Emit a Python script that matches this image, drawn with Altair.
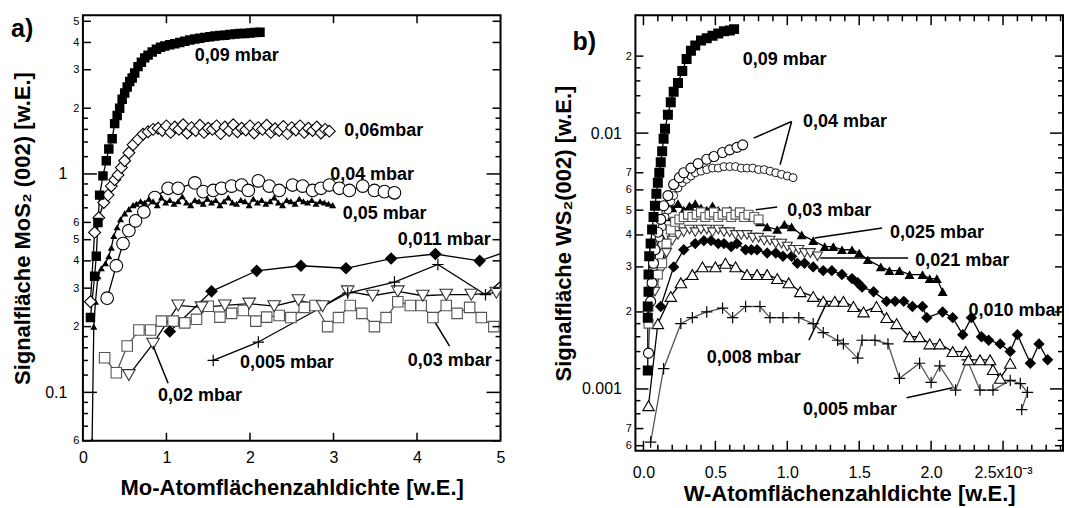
import math
import altair as alt
import pandas as pd

FONT = "Liberation Sans"

# ======================= panel a) : MoS2 =======================
A09_X = [0.09, 0.14, 0.16, 0.18, 0.20, 0.24, 0.28, 0.31, 0.35, 0.38, 0.41, 0.44, 0.47, 0.50, 0.53,
         0.56, 0.59, 0.62, 0.66, 0.70, 0.74, 0.78, 0.83, 0.88, 0.93, 0.98, 1.04, 1.10, 1.16, 1.22,
         1.28, 1.34, 1.40, 1.46, 1.52, 1.58, 1.64, 1.70, 1.76, 1.82, 1.88, 1.94, 2.00, 2.06, 2.12]
A09_Y = [0.22, 0.34, 0.42, 0.60, 0.80, 0.98, 1.15, 1.30, 1.45, 1.70, 1.85, 2.00, 2.20, 2.35, 2.50,
         2.65, 2.75, 2.90, 3.10, 3.25, 3.40, 3.50, 3.62, 3.72, 3.80, 3.85, 3.90, 3.95, 4.00, 4.05,
         4.10, 4.15, 4.18, 4.22, 4.25, 4.28, 4.30, 4.32, 4.35, 4.37, 4.40, 4.40, 4.42, 4.44, 4.45]

A06_X = [0.09, 0.14, 0.19, 0.25, 0.30, 0.34, 0.38, 0.42, 0.46, 0.50, 0.55, 0.60, 0.66, 0.72, 0.78, 0.84,
         0.90, 0.95, 1.00, 1.05, 1.10, 1.15, 1.20, 1.25, 1.30, 1.35, 1.40, 1.45, 1.50, 1.55, 1.60,
         1.65, 1.70, 1.75, 1.80, 1.85, 1.90, 1.95, 2.00, 2.05, 2.10, 2.15, 2.20, 2.25, 2.30, 2.35,
         2.40, 2.45, 2.50, 2.55, 2.60, 2.65, 2.70, 2.75, 2.80, 2.85, 2.90, 2.95]
A06_Y = [0.26, 0.54, 0.63, 0.74, 0.80, 0.88, 0.94, 0.99, 1.07, 1.15, 1.25, 1.36, 1.44, 1.52, 1.56, 1.60,
         1.62, 1.58, 1.66, 1.55, 1.64, 1.60, 1.68, 1.54, 1.63, 1.58,
         1.67, 1.55, 1.62, 1.60, 1.66, 1.53, 1.64, 1.58, 1.68, 1.56,
         1.62, 1.59, 1.66, 1.54, 1.63, 1.60, 1.67, 1.55, 1.61, 1.58,
         1.65, 1.53, 1.63, 1.59, 1.66, 1.55, 1.62, 1.58, 1.64, 1.54,
         1.60, 1.57]

A04_X = [0.29, 0.40, 0.48, 0.55, 0.63, 0.73, 0.86, 1.02, 1.14, 1.34, 1.44, 1.56, 1.66, 1.78, 1.90,
         1.98, 2.10, 2.23, 2.35, 2.51, 2.63, 2.75, 2.85, 2.95, 3.07, 3.19, 3.35, 3.49, 3.61, 3.73]
A04_Y = [0.27, 0.38, 0.48, 0.55, 0.61, 0.67, 0.78, 0.86, 0.86, 0.91, 0.83, 0.84, 0.86, 0.88, 0.89,
         0.84, 0.93, 0.88, 0.84, 0.89, 0.88, 0.84, 0.86, 0.89, 0.86, 0.84, 0.88, 0.84, 0.83, 0.82]

A05_X = [0.11, 0.13, 0.15, 0.18, 0.22, 0.27, 0.31, 0.34, 0.37, 0.41, 0.45, 0.50, 0.55, 0.60,
         0.64, 0.69, 0.74, 0.79, 0.84, 0.89, 0.94, 0.99, 1.04, 1.09,
         1.14, 1.19, 1.24, 1.29, 1.34, 1.39, 1.44, 1.49, 1.54, 1.59,
         1.64, 1.69, 1.74, 1.79, 1.84, 1.89, 1.94, 1.99, 2.04, 2.09,
         2.14, 2.19, 2.24, 2.29, 2.34, 2.39, 2.44, 2.49, 2.54, 2.59,
         2.64, 2.69, 2.74, 2.79, 2.84, 2.89, 2.94, 2.99]
A05_Y = [0.06, 0.20, 0.26, 0.34, 0.37, 0.39, 0.42, 0.46, 0.52, 0.57, 0.62, 0.66, 0.69, 0.72,
         0.73, 0.75, 0.74, 0.77, 0.75, 0.72, 0.78, 0.74, 0.76, 0.73,
         0.75, 0.79, 0.74, 0.72, 0.76, 0.75, 0.73, 0.77, 0.74, 0.76,
         0.72, 0.75, 0.78, 0.74, 0.73, 0.76, 0.75, 0.72, 0.77, 0.74,
         0.76, 0.73, 0.75, 0.78, 0.74, 0.72, 0.76, 0.75, 0.73, 0.77,
         0.75, 0.74, 0.76, 0.73, 0.75, 0.74, 0.73, 0.72]

A011_X = [1.04, 1.54, 2.08, 2.61, 3.15, 3.69, 4.22, 4.75, 5.28]
A011_Y = [0.19, 0.29, 0.36, 0.38, 0.37, 0.41, 0.43, 0.40, 0.47]

A005_X = [1.56, 2.10, 3.17, 3.73, 4.25, 4.82, 5.35]
A005_Y = [0.14, 0.17, 0.285, 0.32, 0.385, 0.28, 0.42]

A02_X = [0.55, 0.84, 1.14, 1.42, 1.70, 1.99, 2.29, 2.58, 2.87, 3.17, 3.47, 3.77, 4.07, 4.35, 4.65, 4.95]
A02_Y = [0.12, 0.167, 0.25, 0.245, 0.25, 0.255, 0.248, 0.264, 0.248, 0.29, 0.277, 0.29, 0.277, 0.28, 0.28, 0.286]

A03_X = [0.26, 0.40, 0.53, 0.67, 0.81, 0.94, 1.08, 1.22, 1.36, 1.50, 1.64, 1.78, 1.92, 2.07, 2.20, 2.35,
         2.49, 2.65, 2.78, 2.93, 3.06, 3.20, 3.34, 3.49, 3.63, 3.77, 3.92, 4.05, 4.19, 4.35, 4.48,
         4.63, 4.77, 4.92]
A03_Y = [0.144, 0.123, 0.163, 0.193, 0.193, 0.212, 0.212, 0.208, 0.216, 0.248, 0.221, 0.23, 0.237,
         0.212, 0.221, 0.225, 0.22, 0.245, 0.25, 0.2, 0.22, 0.25, 0.23, 0.2, 0.22, 0.26, 0.25, 0.25,
         0.22, 0.25, 0.23, 0.245, 0.22, 0.2]

A_TEXT = ["0,09 mbar", "0,06mbar", "0,04 mbar", "0,05 mbar", "0,011 mbar", "0,005 mbar", "0,02 mbar", "0,03 mbar"]
A_TEXT_X = [1.34, 3.13, 2.96, 3.11, 3.77, 1.88, 0.90, 3.89]
A_TEXT_Y = [3.46, 1.57, 0.99, 0.655, 0.50, 0.136, 0.096, 0.139]
A_PTR_ID = ["p02", "p02", "p03", "p03"]
A_PTR_X = [0.84, 1.02, 4.22, 4.39]
A_PTR_Y = [0.163, 0.110, 0.208, 0.163]

A_XLAB_V = [0, 1, 2, 3, 4, 5]
A_XLAB_T = ["0", "1", "2", "3", "4", "5"]
A_XTICK = [1, 2, 3, 4]
A_YLAB_V = [0.06, 0.1, 0.2, 0.3, 0.4, 0.5, 0.6, 1, 2, 3, 4, 5]
A_YLAB_T = ["6", "0.1", "2", "3", "4", "5", "6", "1", "2", "3", "4", "5"]
A_YMINOR = [0.07, 0.08, 0.09, 0.12, 0.14, 0.16, 0.18, 0.7, 0.8, 0.9, 1.2, 1.4, 1.6, 1.8]
A_DECADES = [0.1, 1]

# ======================= panel b) : WS2 =======================
B09_X = [0.03, 0.03, 0.03, 0.035, 0.035, 0.04, 0.05, 0.06, 0.07, 0.08, 0.09, 0.10, 0.11, 0.12, 0.13,
         0.14, 0.15, 0.17, 0.19, 0.21, 0.24, 0.27, 0.30, 0.33, 0.36, 0.40, 0.44, 0.48, 0.52, 0.56,
         0.60, 0.63]
B09_Y = [0.00118, 0.0019, 0.0021, 0.0024, 0.0028, 0.0033, 0.0037, 0.0042, 0.0047, 0.0052, 0.0058,
         0.0064, 0.0070, 0.0077, 0.0085, 0.0095, 0.0104, 0.0118, 0.0132, 0.0145, 0.0157, 0.0175,
         0.0195, 0.0210, 0.0220, 0.0230, 0.0235, 0.0240, 0.0245, 0.0250, 0.0252, 0.0255]

B04A_X = [0.035, 0.05, 0.06, 0.07, 0.08, 0.10, 0.12, 0.14, 0.17, 0.21, 0.25, 0.28, 0.33, 0.38, 0.44,
          0.49, 0.55, 0.60, 0.65, 0.69]
B04A_Y = [0.00138, 0.0022, 0.0026, 0.0031, 0.0035, 0.0041, 0.0046, 0.0052, 0.0057, 0.0063, 0.0067,
          0.0070, 0.0073, 0.0076, 0.0079, 0.0081, 0.0084, 0.0086, 0.0088, 0.0090]

B04B_X = [0.05, 0.07, 0.09, 0.11, 0.13, 0.15, 0.17, 0.19, 0.21, 0.24, 0.27, 0.30, 0.33, 0.36, 0.40,
          0.44, 0.48, 0.52, 0.56, 0.60, 0.64, 0.68, 0.72, 0.76, 0.80, 0.84, 0.88, 0.92, 0.96, 1.00, 1.04]
B04B_Y = [0.0025, 0.0030, 0.0035, 0.0039, 0.0043, 0.0047, 0.0050, 0.0054, 0.0057, 0.0061, 0.0064,
          0.0066, 0.0068, 0.0070, 0.0071, 0.0072, 0.0073, 0.0073, 0.0074, 0.0074, 0.0074, 0.0073,
          0.0073, 0.0073, 0.0072, 0.0072, 0.0071, 0.0070, 0.0069, 0.0068, 0.0067]

B03_X = [0.035, 0.035, 0.07, 0.10, 0.13, 0.16, 0.19, 0.22, 0.25, 0.28, 0.31, 0.34, 0.37, 0.40, 0.43,
         0.46, 0.49, 0.52, 0.55, 0.58, 0.61, 0.64, 0.67, 0.70, 0.73, 0.77, 0.80]
B03_Y = [0.0018, 0.0021, 0.0026, 0.0028, 0.0031, 0.0037, 0.0042, 0.0045, 0.0046, 0.0047, 0.0048,
         0.0047, 0.0048, 0.0049, 0.0047, 0.0048, 0.0049, 0.0047, 0.0048, 0.0049, 0.0047, 0.0048,
         0.0049, 0.0047, 0.0048, 0.0047, 0.0046]

B025_X = [0.12, 0.16, 0.20, 0.24, 0.28, 0.32, 0.36, 0.40, 0.44, 0.48, 0.52, 0.56, 0.60, 0.64, 0.68,
          0.72, 0.76, 0.81, 0.86, 0.93, 0.98, 1.03, 1.10, 1.18, 1.26, 1.32, 1.38, 1.45, 1.50, 1.56,
          1.65, 1.71, 1.78, 1.85, 1.94, 1.99, 2.04, 2.08]
B025_Y = [0.0040, 0.0047, 0.0051, 0.0053, 0.0050, 0.0052, 0.0053, 0.0051, 0.0050, 0.0052, 0.0050,
          0.0049, 0.0050, 0.0048, 0.0049, 0.0047, 0.0047, 0.0045, 0.0043, 0.0042, 0.0044, 0.0043,
          0.0040, 0.0038, 0.0036, 0.0036, 0.0035, 0.0035, 0.0034, 0.0032, 0.0030, 0.0029, 0.0029,
          0.0028, 0.0028, 0.0027, 0.0027, 0.0024]

B021_X = [0.08, 0.12, 0.16, 0.20, 0.24, 0.28, 0.32, 0.36, 0.40, 0.44, 0.48, 0.52, 0.56, 0.60, 0.64,
          0.68, 0.72, 0.76, 0.80, 0.84, 0.88, 0.92, 0.96, 1.00, 1.04, 1.08, 1.12, 1.16, 1.21]
B021_Y = [0.0024, 0.0029, 0.0034, 0.0038, 0.0040, 0.0041, 0.0042, 0.0041, 0.0042, 0.0042, 0.0041,
          0.0042, 0.0041, 0.0041, 0.0040, 0.0040, 0.0040, 0.0039, 0.0039, 0.0038, 0.0038, 0.0037,
          0.0037, 0.0036, 0.0035, 0.0035, 0.0034, 0.0034, 0.0033]

B010_X = [0.12, 0.21, 0.28, 0.36, 0.42, 0.47, 0.52, 0.56, 0.61, 0.65, 0.71, 0.75, 0.79, 0.86, 0.92,
          0.97, 1.03, 1.07, 1.12, 1.18, 1.25, 1.31, 1.38, 1.45, 1.49, 1.52, 1.60, 1.69, 1.75, 1.81,
          1.87, 1.94, 1.97, 2.08, 2.15, 2.22, 2.28, 2.35, 2.40, 2.48, 2.55, 2.60, 2.69, 2.75, 2.81]
B010_Y = [0.0021, 0.0030, 0.0035, 0.0037, 0.0038, 0.0038, 0.0037, 0.0037, 0.0036, 0.0037, 0.0035,
          0.0035, 0.0035, 0.0034, 0.0034, 0.0033, 0.0033, 0.0031, 0.0031, 0.0030, 0.0029, 0.0029,
          0.0028, 0.0027, 0.0026, 0.0025, 0.0024, 0.0022, 0.0022, 0.0022, 0.0021, 0.0021, 0.0019,
          0.0020, 0.0019, 0.00163, 0.0019, 0.0016, 0.00155, 0.0015, 0.0014, 0.00163, 0.00126,
          0.0015, 0.0013]

B008_X = [0.035, 0.10, 0.19, 0.26, 0.34, 0.41, 0.50, 0.57, 0.64, 0.72, 0.79, 0.86, 0.93, 1.01, 1.09,
          1.18, 1.25, 1.33, 1.39, 1.46, 1.53, 1.62, 1.69, 1.76, 1.85, 1.92, 1.99, 2.06, 2.15, 2.24,
          2.26, 2.34, 2.41, 2.43, 2.48, 2.55]
B008_Y = [0.00086, 0.0018, 0.0023, 0.0026, 0.0028, 0.0030, 0.0030, 0.0031, 0.0030, 0.0028, 0.0028,
          0.0028, 0.0027, 0.0026, 0.0024, 0.0023, 0.0022, 0.0022, 0.0022, 0.0021, 0.0020, 0.0021,
          0.0019, 0.0018, 0.0016, 0.0016, 0.0015, 0.0015, 0.0014, 0.0014, 0.0013, 0.0013, 0.0013,
          0.00119, 0.0011, 0.00126]

B005_X = [0.05, 0.14, 0.26, 0.34, 0.44, 0.55, 0.62, 0.71, 0.81, 0.88, 0.97, 1.08, 1.18, 1.25, 1.35,
          1.39, 1.49, 1.52, 1.61, 1.70, 1.78, 1.92, 2.00, 2.06, 2.17, 2.25, 2.34, 2.43, 2.55, 2.62,
          2.67, 2.63]
B005_Y = [0.00062, 0.0012, 0.0018, 0.0019, 0.0020, 0.00207, 0.0019, 0.0021, 0.0021, 0.0019, 0.0019,
          0.0019, 0.0018, 0.00166, 0.00155, 0.0015, 0.00132, 0.00155, 0.00155, 0.0015, 0.0011,
          0.00126, 0.00106, 0.00123, 0.00099, 0.0013, 0.00099, 0.00099, 0.00108, 0.00105, 0.00097,
          0.00083]
B005E_X = [2.92]
B005E_Y = [0.00063]

B_TEXT = ["0,09 mbar", "0,04 mbar", "0,03 mbar", "0,025 mbar", "0,021 mbar", "0,010 mbar",
          "0,008 mbar", "0,005 mbar"]
B_TEXT_X = [0.69, 1.11, 1.00, 1.715, 1.89, 2.26, 0.44, 1.11]
B_TEXT_Y = [0.0193, 0.0111, 0.00496, 0.00407, 0.00316, 0.00202, 0.00132, 0.00083]
B_PTR_ID = ["p04a", "p04a", "p04b", "p04b", "p03", "p03", "p025", "p025", "p021", "p021",
            "p008", "p008", "p005", "p005"]
B_PTR_X = [1.03, 0.766, 1.03, 0.95, 0.78, 0.93, 1.19, 1.66, 1.23, 1.84, 1.15, 1.28, 1.83, 2.15]
B_PTR_Y = [0.0111, 0.00956, 0.0111, 0.00752, 0.00502, 0.00514, 0.00389, 0.00426, 0.00325, 0.00325,
           0.00155, 0.00221, 0.000923, 0.00101]

B_XLAB_V = [0, 0.5, 1.0, 1.5, 2.0, 2.5]
B_XLAB_T = ["0.0", "0.5", "1.0", "1.5", "2.0", "2.5x10\u207b\u00b3"]
B_XMINOR = [0.1, 0.2, 0.3, 0.4, 0.6, 0.7, 0.8, 0.9, 1.1, 1.2, 1.3, 1.4, 1.6, 1.7, 1.8, 1.9,
            2.1, 2.2, 2.3, 2.4, 2.6, 2.7, 2.8, 2.9]
B_YLAB_V = [0.0006, 0.0007, 0.001, 0.002, 0.003, 0.004, 0.005, 0.006, 0.007, 0.01, 0.02]
B_YLAB_T = ["6", "7", "0.001", "2", "3", "4", "5", "6", "7", "0.01", "2"]
B_YMINOR = [0.0008, 0.0009, 0.0012, 0.0014, 0.0016, 0.0018, 0.008, 0.009, 0.012, 0.014, 0.016, 0.018]
B_DECADES = [0.001, 0.01]

# ======================= geometry / styles =======================
# panel a's frame starts a little above y = 5 (its top sits higher than the labelled range)
A_W, A_H = 418, 426
B_W, B_H = 428, 436
A_XDOM, A_YDOM = [0, 5], [0.06, 5.33]
B_XDOM, B_YDOM = [-0.056, 2.917], [0.000573, 0.0289]
A_SX = alt.Scale(domain=A_XDOM, nice=False, zero=False)
A_SY = alt.Scale(type="log", domain=A_YDOM, nice=False)
B_SX = alt.Scale(domain=B_XDOM, nice=False, zero=False)
B_SY = alt.Scale(type="log", domain=B_YDOM, nice=False)

PLUS = "M-1,0L1,0M0,-1L0,1"


def filled(shape, size):
    return dict(shape=shape, size=size, filled=True, color="black")


def hollow(shape, size, stroke="black", sw=1.1):
    return dict(shape=shape, size=size, filled=True, fill="white", stroke=stroke, strokeWidth=sw)


def plus(size):
    return dict(shape=PLUS, size=size, filled=False, stroke="black", strokeWidth=1.2)


A_SERIES = [
    ("a03", A03_X, A03_Y, hollow("square", 110, "#555555"), "#555555"),
    ("a02", A02_X, A02_Y, hollow("triangle-down", 160, "#333333"), "black"),
    ("a005", A005_X, A005_Y, plus(130), "black"),
    ("a011", A011_X, A011_Y, filled("diamond", 160), "black"),
    ("a04", A04_X, A04_Y, hollow("circle", 160), "black"),
    ("a05", A05_X, A05_Y, filled("triangle-up", 50), "black"),
    ("a06", A06_X, A06_Y, hollow("diamond", 140), "black"),
    ("a09", A09_X, A09_Y, filled("square", 90), "black"),
]

B_SERIES = [
    ("b005", B005_X, B005_Y, plus(130), "black"),
    ("b005e", B005E_X, B005E_Y, plus(130), "black"),
    ("b008", B008_X, B008_Y, hollow("triangle-up", 130), "black"),
    ("b010", B010_X, B010_Y, filled("diamond", 130), "black"),
    ("b021", B021_X, B021_Y, hollow("triangle-down", 100, "#333333"), "black"),
    ("b025", B025_X, B025_Y, filled("triangle-up", 100), "black"),
    ("b03", B03_X, B03_Y, hollow("square", 80, "#555555"), "#555555"),
    ("b04b", B04B_X, B04B_Y, hollow("circle", 64, "black", 0.9), "black"),
    ("b04a", B04A_X, B04A_Y, hollow("circle", 100), "black"),
    ("b09", B09_X, B09_Y, filled("square", 100), "black"),
]


def close_test(vals):
    return " || ".join(f"abs(datum.value - {v}) < {abs(v) * 1e-6 + 1e-12}" for v in vals)


def label_expr(vals, texts):
    e = "''"
    for v, t in reversed(list(zip(vals, texts))):
        e = f"abs(datum.value - {v}) < {abs(v) * 1e-6 + 1e-12} ? '{t}' : {e}"
    return e


def enc(sx, sy, xaxis=None, yaxis=None):
    x = alt.X("x:Q", scale=sx, axis=xaxis) if xaxis is not None else alt.X("x:Q", scale=sx, axis=None)
    y = alt.Y("y:Q", scale=sy, axis=yaxis) if yaxis is not None else alt.Y("y:Q", scale=sy, axis=None)
    return dict(x=x, y=y)


def label_axes(dummy, sx, sy, ylab_v, ylab_t, decades, ytitle, ytpad, big_pad,
               xlab_v, xlab_t, xtitle, xlpad, xtpad):
    big = close_test(decades)
    yax = alt.Axis(
        orient="left", values=ylab_v, labelExpr=label_expr(ylab_v, ylab_t), ticks=False, domain=False,
        grid=False, labelFlush=False, labelOverlap=False, labelFont=FONT, labelColor="black",
        labelFontSize={"condition": {"test": big, "value": 16}, "value": 11},
        labelPadding={"condition": {"test": big, "value": big_pad}, "value": 4},
        title=ytitle, titleFont=FONT, titleFontSize=22, titleFontWeight="bold", titleColor="black",
        titlePadding=ytpad)
    xax = alt.Axis(
        orient="bottom", values=xlab_v, labelExpr=label_expr(xlab_v, xlab_t), ticks=False, domain=False,
        grid=False, labelFlush=False, labelOverlap=False, labelFont=FONT, labelColor="black",
        labelFontSize=16, labelPadding=xlpad,
        title=xtitle, titleFont=FONT, titleFontSize=22, titleFontWeight="bold", titleColor="black",
        titlePadding=xtpad)
    return [alt.Chart(dummy).mark_point(opacity=0).encode(**enc(sx, sy, yaxis=yax)),
            alt.Chart(dummy).mark_point(opacity=0).encode(**enc(sx, sy, xaxis=xax))]


def tick_frame(xdom, ydom, W, H, ygroups, xgroups):
    """Inward frame ticks as 2-point segments (ids, order, x, y); px lengths go through the scale geometry."""
    xspan = xdom[1] - xdom[0]
    ydec = math.log10(ydom[1] / ydom[0])
    ex = 0.6 * xspan / W                 # start just inside the frame line
    ey = 10 ** (0.6 * ydec / H)
    rows = []
    k = 0
    for vals, length in ygroups:
        d = length * xspan / W
        for v in vals:
            for x0, x1 in [(xdom[0] + ex, xdom[0] + d), (xdom[1] - ex, xdom[1] - d)]:
                rows += [(f"t{k}", 0, x0, v), (f"t{k}", 1, x1, v)]
                k += 1
    for vals, length in xgroups:
        f = 10 ** (length * ydec / H)
        for v in vals:
            for y0, y1 in [(ydom[0] * ey, ydom[0] * f), (ydom[1] / ey, ydom[1] / f)]:
                rows += [(f"t{k}", 0, v, y0), (f"t{k}", 1, v, y1)]
                k += 1
    return pd.DataFrame(rows, columns=["p", "i", "x", "y"])


def data_layers(series, sx, sy, lw):
    frames = [pd.DataFrame({"x": xs, "y": ys, "s": k, "i": list(range(len(xs)))})
              for k, xs, ys, _, _ in series]
    df = pd.concat(frames, ignore_index=True)
    keys = [s[0] for s in series]
    lcol = [s[4] for s in series]
    line = alt.Chart(df).mark_line(clip=True, strokeWidth=lw).encode(
        **enc(sx, sy), detail="s:N", order="i:Q",
        stroke=alt.Stroke("s:N", scale=alt.Scale(domain=keys, range=lcol), legend=None))
    pts = []
    for k, xs, ys, st, _ in series:
        sub = df[df["s"] == k]
        pts.append(alt.Chart(sub).mark_point(clip=True, opacity=1, **st).encode(**enc(sx, sy)))
    return [line] + pts


def text_layers(sx, sy, texts, tx, ty, pid, px, py, ticks_df, panel_label, corner_x, corner_y, pdx, pdy):
    tdf = pd.DataFrame({"t": texts, "x": tx, "y": ty})
    pdf = pd.DataFrame({"p": pid, "x": px, "y": py, "i": [j % 2 for j in range(len(px))]})
    segs = pd.concat([pdf, ticks_df], ignore_index=True)
    ptr = alt.Chart(segs).mark_line(color="black", strokeWidth=1.5).encode(
        **enc(sx, sy), detail="p:N", order="i:Q")
    txt = alt.Chart(tdf).mark_text(align="left", baseline="middle", font=FONT, fontSize=18,
                                   fontWeight="bold", color="black").encode(**enc(sx, sy), text="t:N")
    ldf = pd.DataFrame({"t": [panel_label], "x": [corner_x], "y": [corner_y]})
    lab = alt.Chart(ldf).mark_text(
        align="left", baseline="middle", font=FONT, fontSize=25, fontWeight="bold", color="black",
        dx=pdx, dy=pdy).encode(**enc(sx, sy), text="t:N")
    return [ptr, txt, lab]


dummy_a = pd.DataFrame({"x": [1.0], "y": [1.0]})
dummy_b = pd.DataFrame({"x": [1.0], "y": [0.002]})

A_YGROUPS = [(A_DECADES, 14), ([v for v in A_YLAB_V if v not in A_DECADES], 8), (A_YMINOR, 5)]
A_XGROUPS = [(A_XTICK, 8)]
B_YGROUPS = [(B_DECADES, 13), ([v for v in B_YLAB_V if v not in B_DECADES], 8), (B_YMINOR, 5)]
B_XGROUPS = [(B_XLAB_V, 10), (B_XMINOR, 6)]

panel_a = alt.layer(
    *label_axes(dummy_a, A_SX, A_SY, A_YLAB_V, A_YLAB_T, A_DECADES,
                "Signalfläche MoS\u2082 (002) [w.E.]", 10, 16,
                A_XLAB_V, A_XLAB_T, "Mo-Atomflächenzahldichte [w.E.]", 9, 12),
    *data_layers(A_SERIES, A_SX, A_SY, 1.3),
    *text_layers(A_SX, A_SY, A_TEXT, A_TEXT_X, A_TEXT_Y, A_PTR_ID, A_PTR_X, A_PTR_Y,
                 tick_frame(A_XDOM, A_YDOM, A_W, A_H, A_YGROUPS, A_XGROUPS),
                 "a)", A_XDOM[0], A_YDOM[1], -72, 14),
).resolve_axis(x="independent", y="independent").properties(width=A_W, height=A_H)

panel_b = alt.layer(
    *label_axes(dummy_b, B_SX, B_SY, B_YLAB_V, B_YLAB_T, B_DECADES,
                "Signalfläche WS\u2082(002) [w.E.]", 6, 14,
                B_XLAB_V, B_XLAB_T, "W-Atomflächenzahldichte [w.E.]", 14, 3),
    *data_layers(B_SERIES, B_SX, B_SY, 1.3),
    *text_layers(B_SX, B_SY, B_TEXT, B_TEXT_X, B_TEXT_Y, B_PTR_ID, B_PTR_X, B_PTR_Y,
                 tick_frame(B_XDOM, B_YDOM, B_W, B_H, B_YGROUPS, B_XGROUPS),
                 "b)", B_XDOM[0], B_YDOM[1], -63, 27),
).resolve_axis(x="independent", y="independent").properties(width=B_W, height=B_H)

chart = alt.hconcat(panel_a, panel_b, spacing=44).properties(
    padding={"left": 10, "top": 11, "right": 2, "bottom": 2}, background="white"
).configure_view(stroke="black", strokeWidth=2).configure_axis(grid=False)

chart.save("out.html", embed_options={"renderer": "svg", "actions": False})
